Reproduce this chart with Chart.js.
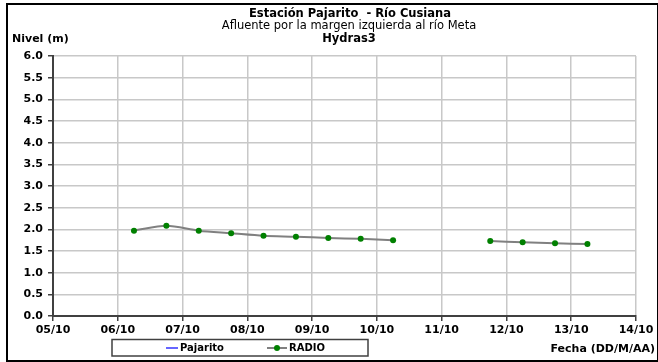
<!DOCTYPE html>
<html>
<head>
<meta charset="utf-8">
<script src="https://cdn.jsdelivr.net/npm/chart.js@4"></script>
<style>
  html, body { margin: 0; padding: 0; background: #fff; }
  canvas { display: block; }
</style>
</head>
<body>
<canvas id="nivelChart" width="658" height="362"></canvas>
<script>
// Readings every 12 h (DD/MM HH:MM)
const timeLabels = ['06/10 06:00', '06/10 18:00', '07/10 06:00', '07/10 18:00', '08/10 06:00',
  '08/10 18:00', '09/10 06:00', '09/10 18:00', '10/10 06:00', '10/10 18:00',
  '11/10 06:00', '11/10 18:00', '12/10 06:00', '12/10 18:00', '13/10 06:00'];
const radioValues = [1.97, 2.08, 1.97, 1.91, 1.85, 1.83, 1.80, 1.78, 1.75, null,
  null, 1.73, 1.70, 1.68, 1.66];
const pajaritoValues = [null, null, null, null, null, null, null, null, null, null,
  null, null, null, null, null];
const dayTicks = ['05/10', '06/10', '07/10', '08/10', '09/10', '10/10', '11/10', '12/10', '13/10', '14/10'];
const yTickValues = [0, 0.5, 1, 1.5, 2, 2.5, 3, 3.5, 4, 4.5, 5, 5.5, 6];

const FONT = '"DejaVu Sans", sans-serif';

// days since 05/10
function toDay(label) {
  const [date, time] = label.split(' ');
  const dd = parseInt(date.split('/')[0]);
  const hh = parseInt(time.split(':')[0]);
  return dd - 5 + hh / 24;
}

const radioData = timeLabels.map((t, i) => ({ x: toDay(t), y: radioValues[i] }));
const pajaritoData = timeLabels.map((t, i) => ({ x: toDay(t), y: pajaritoValues[i] }));

// texts, frame and legend box around the plot
const decorations = {
  id: 'decorations',
  beforeDraw(chart) {
    const ctx = chart.ctx;
    ctx.save();
    ctx.fillStyle = '#fff';
    ctx.fillRect(0, 0, chart.width, chart.height);
    ctx.restore();
  },
  afterDraw(chart) {
    const ctx = chart.ctx;
    ctx.save();
    // outer frame
    ctx.strokeStyle = '#000';
    ctx.lineWidth = 2;
    ctx.strokeRect(7, 4, 651, 357);

    // titles
    ctx.fillStyle = '#000';
    ctx.textAlign = 'center';
    ctx.textBaseline = 'middle';
    ctx.font = 'bold 11.5px ' + FONT;
    ctx.fillText('Estación Pajarito  - Río Cusiana', 350, 14);
    ctx.font = '11.5px ' + FONT;
    ctx.fillText('Afluente por la margen izquierda al río Meta', 349, 26.5);
    ctx.font = 'bold 11.5px ' + FONT;
    ctx.fillText('Hydras3', 349, 39.5);

    ctx.font = 'bold 11px ' + FONT;
    ctx.textAlign = 'left';
    ctx.fillText('Nivel (m)', 12, 39);
    ctx.textAlign = 'right';
    ctx.fillText('Fecha (DD/M/AA)', 655, 349);

    // legend box
    ctx.strokeStyle = '#404040';
    ctx.lineWidth = 1.5;
    ctx.strokeRect(112, 339.5, 256, 16.5);
    ctx.lineWidth = 2;
    ctx.strokeStyle = '#6666ff';
    ctx.beginPath();
    ctx.moveTo(166, 348);
    ctx.lineTo(178, 348);
    ctx.stroke();
    ctx.strokeStyle = '#808080';
    ctx.beginPath();
    ctx.moveTo(267, 348);
    ctx.lineTo(287, 348);
    ctx.stroke();
    ctx.fillStyle = '#008000';
    ctx.beginPath();
    ctx.arc(277, 348, 3, 0, Math.PI * 2);
    ctx.fill();
    ctx.fillStyle = '#000';
    ctx.textAlign = 'left';
    ctx.font = 'bold 10px ' + FONT;
    ctx.fillText('Pajarito', 180, 348.5);
    ctx.fillText('RADIO', 289, 348.5);
    ctx.restore();
  }
};

new Chart(document.getElementById('nivelChart'), {
  type: 'line',
  data: {
    datasets: [{
      label: 'Pajarito',
      data: pajaritoData,
      borderColor: '#6666ff',
      borderWidth: 2,
      pointRadius: 0,
      spanGaps: false
    }, {
      label: 'RADIO',
      data: radioData,
      borderColor: '#808080',
      borderWidth: 2,
      tension: 0.3,
      pointRadius: 3,
      pointBackgroundColor: '#008000',
      pointBorderColor: '#008000',
      pointBorderWidth: 0,
      spanGaps: false
    }]
  },
  options: {
    responsive: false,
    animation: false,
    layout: { padding: { top: 56, right: 22, left: 0, bottom: 0 } },
    plugins: {
      legend: { display: false },
      title: { display: false },
      tooltip: { enabled: false }
    },
    scales: {
      x: {
        type: 'linear',
        min: 0,
        max: dayTicks.length - 1,
        afterFit: function(scale) { scale.height = 46; },
        afterBuildTicks: function(scale) {
          scale.ticks = dayTicks.map((d, i) => ({ value: i }));
        },
        ticks: {
          autoSkip: false,
          maxRotation: 0,
          padding: 3,
          color: '#000',
          font: { family: FONT, size: 11, weight: 'bold' },
          callback: function(value) { return dayTicks[value]; }
        },
        grid: { color: '#c8c8c8', lineWidth: 1.5, tickLength: 5, tickColor: '#404040' },
        border: { color: '#404040', width: 2 }
      },
      y: {
        min: 0,
        max: 6,
        afterFit: function(scale) { scale.width = 53; },
        afterBuildTicks: function(scale) {
          scale.ticks = yTickValues.map(v => ({ value: v }));
        },
        ticks: {
          padding: 5,
          color: '#000',
          font: { family: FONT, size: 11, weight: 'bold' },
          callback: function(value) { return value.toFixed(1); }
        },
        grid: { color: '#c8c8c8', lineWidth: 1.5, tickLength: 5, tickColor: '#404040' },
        border: { color: '#404040', width: 2 }
      }
    }
  },
  plugins: [decorations]
});
</script>
</body>
</html>
